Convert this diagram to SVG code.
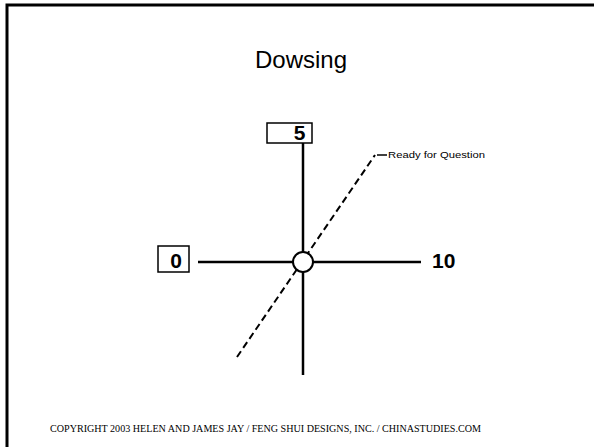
<svg xmlns="http://www.w3.org/2000/svg" width="594" height="447" viewBox="0 0 594 447">
<style>
.ln{stroke:#000;stroke-width:2.5;fill:none}
.box{stroke:#000;stroke-width:1.5;fill:#fff}
.num{font-family:"Liberation Sans",Arial,sans-serif;font-weight:bold;font-size:21px;fill:#000}
</style>
<rect width="594" height="447" fill="#fff"/>
<g id="frame">
<path d="M7 447 V5 H594" stroke="#000" stroke-width="3" fill="none"/>
</g>
<text id="title" x="301" y="68" text-anchor="middle" font-family="Liberation Sans,Arial,sans-serif" font-size="24">Dowsing</text>
<g id="connectors">
<line class="ln" x1="198" y1="262" x2="293" y2="262"/>
<line class="ln" x1="313" y1="262" x2="421" y2="262"/>
<line class="ln" x1="303" y1="143" x2="303" y2="252"/>
<line class="ln" x1="303" y1="272" x2="303" y2="375"/>
<path d="M237 357 L375 155" stroke="#000" stroke-width="2" fill="none" stroke-dasharray="7,4"/>
<line x1="377" y1="155" x2="387" y2="155" stroke="#000" stroke-width="1.5"/>
</g>
<g id="center">
<circle cx="303" cy="262" r="10" stroke="#000" stroke-width="2" fill="#fff"/>
</g>
<g id="node5">
<rect class="box" x="267" y="123" width="45" height="20"/>
<text class="num" x="305.5" y="139.5" text-anchor="end">5</text>
</g>
<g id="node0">
<rect class="box" x="158" y="246" width="31" height="26"/>
<text class="num" x="176" y="267.5" text-anchor="middle">0</text>
</g>
<g id="node10">
<text class="num" x="432" y="267.5">10</text>
</g>
<g id="ready">
<text x="388" y="158" font-family="Liberation Sans,Arial,sans-serif" font-size="9" textLength="97" lengthAdjust="spacingAndGlyphs">Ready for Question</text>
</g>
<text id="copyright" x="50" y="432" font-family="Liberation Serif,Times New Roman,serif" font-size="10.5" textLength="431" lengthAdjust="spacingAndGlyphs">COPYRIGHT 2003 HELEN AND JAMES JAY / FENG SHUI DESIGNS, INC. / CHINASTUDIES.COM</text>
</svg>
